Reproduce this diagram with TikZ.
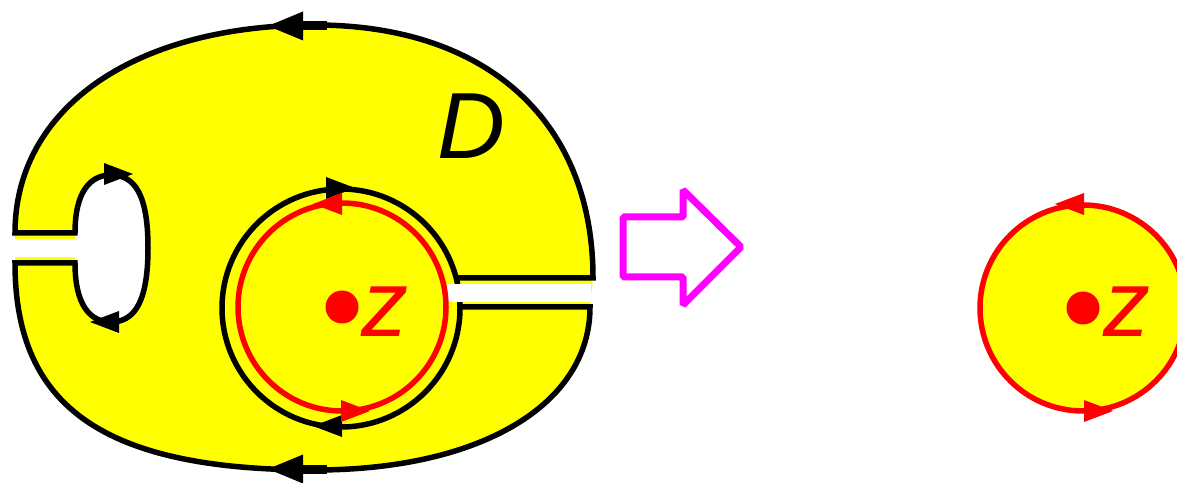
\documentclass[tikz,border=0pt]{standalone}
\usepackage{fontspec}
\usepackage{tikz}
\usetikzlibrary{calc}
\usepackage{xcolor}
\newfontfamily\labelfont{Liberation Sans}
\definecolor{domainyellow}{RGB}{255,255,0}
\definecolor{contourred}{RGB}{255,0,0}
\definecolor{mapmagenta}{RGB}{255,0,255}

\begin{document}
\begin{tikzpicture}[x=1pt,y=1pt,line width=5.5pt,
  biglabel/.style={inner sep=0pt,font=\labelfont\itshape\fontsize{94}{94}\selectfont},
  gap/.style={fill=white,draw=none}]

% #1 = colour, #2 = tip point, #3 = direction
\newcommand{\smalltip}[3]{%
  \fill[#1,shift={(#2)},rotate=#3] (0,0) -- (-29,11) -- (-29,-11) -- cycle;}
% #1 = tip point, #2 = direction
\newcommand{\bigtip}[2]{%
  \fill[black,shift={(#1)},rotate=#2] (0,0) -- (-35,14.5) -- (-35,-14.5) -- cycle;
  \draw[black,line width=9pt,shift={(#1)},rotate=#2] (-35,0) -- (-59,0);}

\clip (0,0) rectangle (1177,482);

% Domain D with the hole cut out.
\fill[domainyellow,even odd rule]
  (15,219) -- (15,249) .. controls (15,374) and (135,457) .. (315,457)
  .. controls (487,457) and (593,361) .. (593,204) -- (590,175)
  .. controls (590,77) and (480,12) .. (315,12)
  .. controls (105,12) and (15,74) .. (15,219) -- cycle
  (75,249) .. controls (75,290) and (90,307) .. (111,307)
  .. controls (136,307) and (148,285) .. (148,234)
  .. controls (148,183) and (136,160) .. (111,160)
  .. controls (90,160) and (75,177) .. (75,219) -- cycle;

% Small circle round z.
\draw[black] (341,174) circle (119);

% Slits.
\fill[gap] (10,225) rectangle (77,243);
\fill[gap] (447,180) rectangle (591,198);

% Boundary of D.
\draw[black]
  (456,204) -- (593,204) .. controls (593,361) and (487,457) .. (315,457)
  .. controls (135,457) and (15,374) .. (15,249) -- (75,249)
  .. controls (75,290) and (90,307) .. (111,307)
  .. controls (136,307) and (148,285) .. (148,234)
  .. controls (148,183) and (136,160) .. (111,160)
  .. controls (90,160) and (75,177) .. (75,219) -- (15,219)
  .. controls (15,74) and (105,12) .. (315,12)
  .. controls (480,12) and (590,77) .. (590,175) -- (460,175);

% Contour round z.
\draw[contourred] (342,175) circle (104);
\fill[contourred] (342,175) circle (16.5);
\node[biglabel,text=contourred] (zleft) at (385,170) {z};
\node[biglabel] (dlabel) at (471,356) {D};

% Orientation of the contours.
\bigtip{268,456}{180}
\bigtip{268,13}{180}
\smalltip{black}{133,308}{0}
\smalltip{black}{90,160}{180}
\smalltip{black}{355,294}{0}
\smalltip{black}{313,56}{180}
\smalltip{contourred}{313,278}{180}
\smalltip{contourred}{370,71}{0}

% Block arrow.
\draw[mapmagenta,line width=7pt,line join=bevel]
  (623,265) -- (683,265) -- (683,292) -- (741,235)
  -- (683,177) -- (683,205) -- (623,205) -- cycle;

% Disc round z on the right.
\draw[contourred,fill=domainyellow] (1083,174) circle (103);
\fill[contourred] (1083,174) circle (16.5);
\node[biglabel,text=contourred] (zright) at (1127,170) {z};
\smalltip{contourred}{1055,278}{180}
\smalltip{contourred}{1113,71}{0}

\end{tikzpicture}
\end{document}
